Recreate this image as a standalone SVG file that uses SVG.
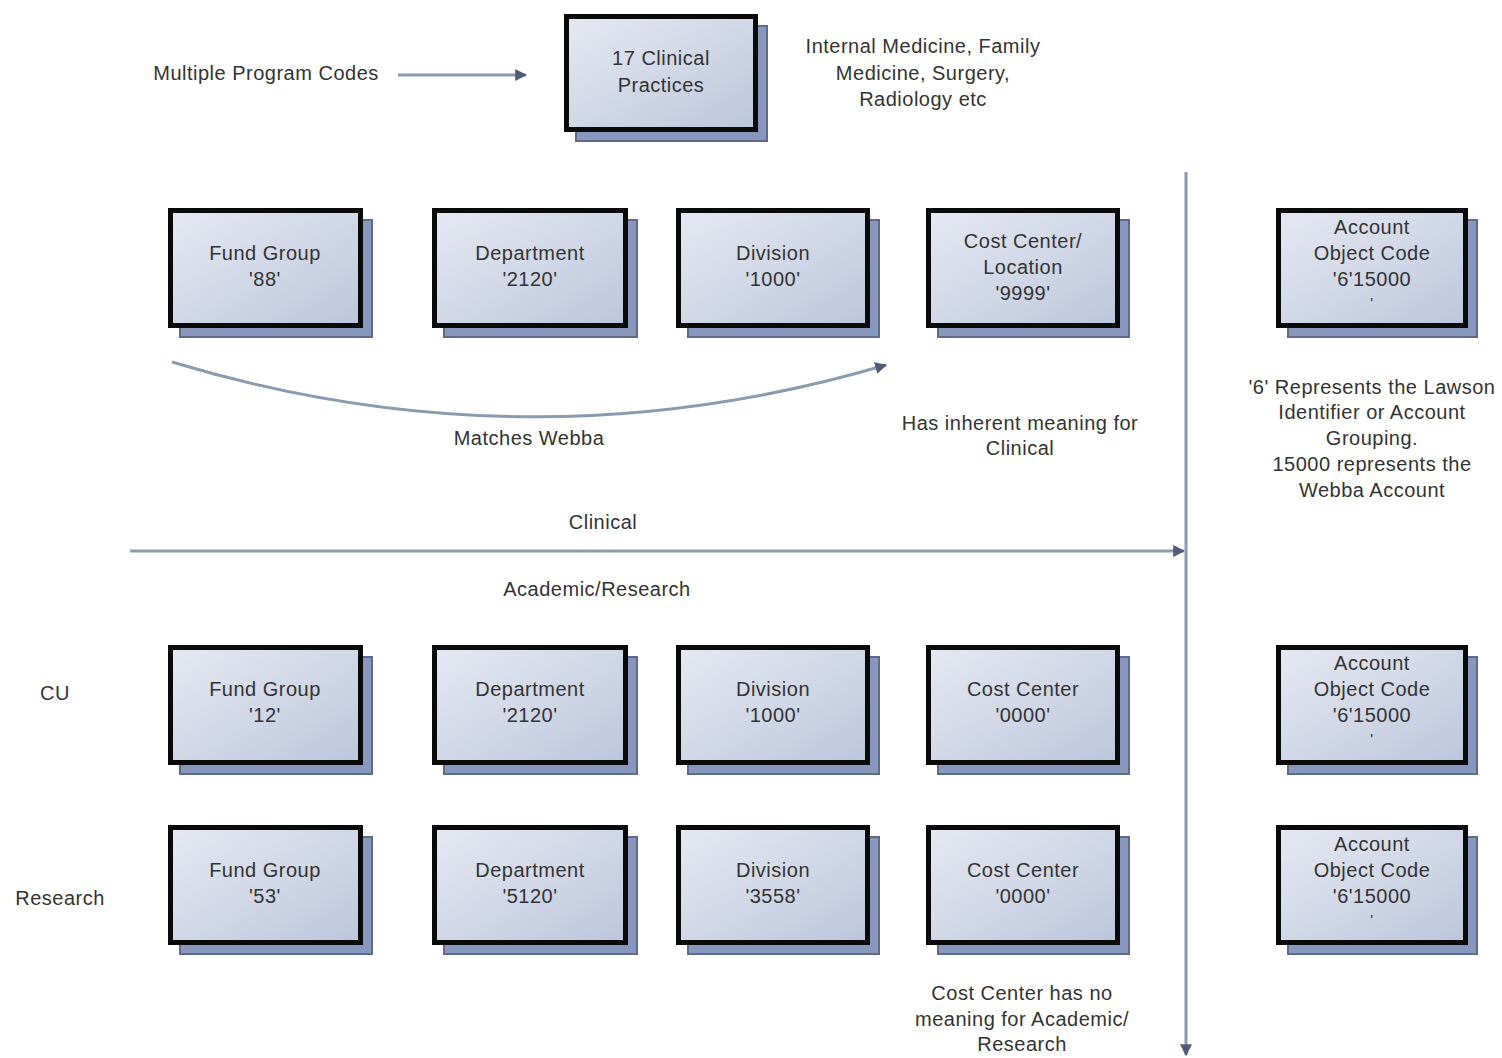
<svg xmlns="http://www.w3.org/2000/svg" width="1502" height="1058" viewBox="0 0 1502 1058">
<defs>
<linearGradient id="bf" x1="0" y1="0" x2="1" y2="1">
<stop offset="0" stop-color="#e6e9f2"/>
<stop offset="1" stop-color="#bcc6dc"/>
</linearGradient>
<marker id="ah" viewBox="0 0 10 10" refX="9" refY="5" markerWidth="4" markerHeight="4" orient="auto" markerUnits="strokeWidth">
<path d="M0,0 L10,5 L0,10 z" fill="#4f5d78"/>
</marker>
</defs>
<style>
.sh{fill:#8797bd;stroke:#5f6b86;stroke-width:2}
.bx{fill:url(#bf);stroke:#0a0a0a;stroke-width:5}
text{font-family:"Liberation Sans",Arial,sans-serif;font-size:20px;letter-spacing:0.5px;fill:#333333;text-anchor:middle}
text.tk{font-size:15px}
.ln{fill:none;stroke:#8a9ab0;stroke-width:3}
</style>
<rect width="1502" height="1058" fill="#ffffff"/>

<g id="connectors">
<line class="ln" x1="398" y1="75" x2="526" y2="75" marker-end="url(#ah)"/>
<path class="ln" d="M172,362 Q530,470 886,365" marker-end="url(#ah)"/>
<line class="ln" x1="130" y1="551" x2="1184" y2="551" marker-end="url(#ah)"/>
<line class="ln" x1="1186" y1="172" x2="1186" y2="1055" marker-end="url(#ah)"/>
</g>

<g id="labels">
<text x="266" y="80">Multiple Program Codes</text>
<text x="923" y="53">Internal Medicine, Family</text>
<text x="923" y="80">Medicine, Surgery,</text>
<text x="923" y="106">Radiology etc</text>
<text x="529" y="445">Matches Webba</text>
<text x="1020" y="430">Has inherent meaning for</text>
<text x="1020" y="455">Clinical</text>
<text x="603" y="529">Clinical</text>
<text x="597" y="596">Academic/Research</text>
<text x="1372" y="394">'6' Represents the Lawson</text>
<text x="1372" y="419">Identifier or Account</text>
<text x="1372" y="445">Grouping.</text>
<text x="1372" y="471">15000 represents the</text>
<text x="1372" y="497">Webba Account</text>
<text x="55" y="700">CU</text>
<text x="60" y="905">Research</text>
<text x="1022" y="1000">Cost Center has no</text>
<text x="1022" y="1026">meaning for Academic/</text>
<text x="1022" y="1051">Research</text>
</g>

<g id="n-practices">
<rect class="sh" x="576" y="26" width="191" height="115"/>
<rect class="bx" x="566.5" y="16.5" width="189" height="113"/>
<text x="661" y="65">17 Clinical</text>
<text x="661" y="92">Practices</text>
</g>

<!-- Row 1 -->
<g id="n-fund-88">
<rect class="sh" x="180" y="220" width="192" height="117"/>
<rect class="bx" x="170.5" y="210.5" width="190" height="115"/>
<text x="265" y="260">Fund Group</text>
<text x="265" y="286">'88'</text>
</g>
<g id="n-dept-2120-a">
<rect class="sh" x="444" y="220" width="193" height="117"/>
<rect class="bx" x="434.5" y="210.5" width="191" height="115"/>
<text x="530" y="260">Department</text>
<text x="530" y="286">'2120'</text>
</g>
<g id="n-div-1000-a">
<rect class="sh" x="688" y="220" width="191" height="117"/>
<rect class="bx" x="678.5" y="210.5" width="189" height="115"/>
<text x="773" y="260">Division</text>
<text x="773" y="286">'1000'</text>
</g>
<g id="n-cc-9999">
<rect class="sh" x="938" y="220" width="191" height="117"/>
<rect class="bx" x="928.5" y="210.5" width="189" height="115"/>
<text x="1023" y="248">Cost Center/</text>
<text x="1023" y="274">Location</text>
<text x="1023" y="300">'9999'</text>
</g>
<g id="n-acct-a">
<rect class="sh" x="1288" y="220" width="189" height="117"/>
<rect class="bx" x="1278.5" y="210.5" width="187" height="115"/>
<text x="1372" y="234">Account</text>
<text x="1372" y="260">Object Code</text>
<text x="1372" y="286">'6'15000</text>
<text class="tk" x="1372" y="308">'</text>
</g>

<!-- Row 2 -->
<g id="n-fund-12">
<rect class="sh" x="180" y="657" width="192" height="117"/>
<rect class="bx" x="170.5" y="647.5" width="190" height="115"/>
<text x="265" y="696">Fund Group</text>
<text x="265" y="722">'12'</text>
</g>
<g id="n-dept-2120-b">
<rect class="sh" x="444" y="657" width="193" height="117"/>
<rect class="bx" x="434.5" y="647.5" width="191" height="115"/>
<text x="530" y="696">Department</text>
<text x="530" y="722">'2120'</text>
</g>
<g id="n-div-1000-b">
<rect class="sh" x="688" y="657" width="191" height="117"/>
<rect class="bx" x="678.5" y="647.5" width="189" height="115"/>
<text x="773" y="696">Division</text>
<text x="773" y="722">'1000'</text>
</g>
<g id="n-cc-0000-a">
<rect class="sh" x="938" y="657" width="191" height="117"/>
<rect class="bx" x="928.5" y="647.5" width="189" height="115"/>
<text x="1023" y="696">Cost Center</text>
<text x="1023" y="722">'0000'</text>
</g>
<g id="n-acct-b">
<rect class="sh" x="1288" y="657" width="189" height="117"/>
<rect class="bx" x="1278.5" y="647.5" width="187" height="115"/>
<text x="1372" y="670">Account</text>
<text x="1372" y="696">Object Code</text>
<text x="1372" y="722">'6'15000</text>
<text class="tk" x="1372" y="744">'</text>
</g>

<!-- Row 3 -->
<g id="n-fund-53">
<rect class="sh" x="180" y="837" width="192" height="117"/>
<rect class="bx" x="170.5" y="827.5" width="190" height="115"/>
<text x="265" y="877">Fund Group</text>
<text x="265" y="903">'53'</text>
</g>
<g id="n-dept-5120">
<rect class="sh" x="444" y="837" width="193" height="117"/>
<rect class="bx" x="434.5" y="827.5" width="191" height="115"/>
<text x="530" y="877">Department</text>
<text x="530" y="903">'5120'</text>
</g>
<g id="n-div-3558">
<rect class="sh" x="688" y="837" width="191" height="117"/>
<rect class="bx" x="678.5" y="827.5" width="189" height="115"/>
<text x="773" y="877">Division</text>
<text x="773" y="903">'3558'</text>
</g>
<g id="n-cc-0000-b">
<rect class="sh" x="938" y="837" width="191" height="117"/>
<rect class="bx" x="928.5" y="827.5" width="189" height="115"/>
<text x="1023" y="877">Cost Center</text>
<text x="1023" y="903">'0000'</text>
</g>
<g id="n-acct-c">
<rect class="sh" x="1288" y="837" width="189" height="117"/>
<rect class="bx" x="1278.5" y="827.5" width="187" height="115"/>
<text x="1372" y="851">Account</text>
<text x="1372" y="877">Object Code</text>
<text x="1372" y="903">'6'15000</text>
<text class="tk" x="1372" y="925">'</text>
</g>
</svg>
